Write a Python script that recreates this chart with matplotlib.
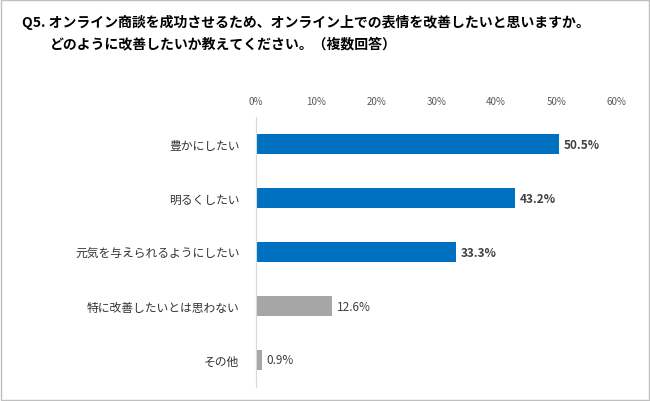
import matplotlib
matplotlib.use("Agg")
import matplotlib.pyplot as plt
from matplotlib.patches import Rectangle

plt.rcParams['font.family'] = 'Noto Sans CJK JP'

categories = ["豊かにしたい", "明るくしたい", "元気を与えられるようにしたい", "特に改善したいとは思わない", "その他"]
values = [50.5, 43.2, 33.3, 12.6, 0.9]
colors = ["#0070C0", "#0070C0", "#0070C0", "#A6A6A6", "#A6A6A6"]
bold = [True, True, True, False, False]
ticks = [0, 10, 20, 30, 40, 50, 60]
tick_labels = [f"{t}%" for t in ticks]

fig = plt.figure(figsize=(6.5, 4.02), dpi=100)
fig.patches.append(Rectangle((0.002, 0.002), 0.996, 0.996, transform=fig.transFigure,
                             fill=False, edgecolor="#BFBFBF", linewidth=1))
fig.text(0.034, 0.945, "Q5. オンライン商談を成功させるため、オンライン上での表情を改善したいと思いますか。",
         fontsize=10, fontweight='bold', va='center')
fig.text(0.077, 0.89, "どのように改善したいか教えてください。（複数回答）",
         fontsize=10, fontweight='bold', va='center')

ax = fig.add_axes([0.394, 0.035, 0.554, 0.671])
y = list(range(len(categories)))
ax.barh(y, values, color=colors, height=0.38)
ax.set_ylim(len(categories) - 0.5, -0.5)
ax.set_xlim(0, 60)
ax.set_yticks(y)
ax.set_yticklabels(categories, fontsize=8.5, color="#333333")
ax.set_xticks(ticks)
ax.set_xticklabels(tick_labels, fontsize=7, color="#595959")
ax.xaxis.tick_top()
ax.tick_params(length=0, pad=8)
ax.tick_params(axis='y', pad=12)
for s in ['top', 'right', 'bottom']:
    ax.spines[s].set_visible(False)
ax.spines['left'].set_color("#D9D9D9")
for i, (v, b) in enumerate(zip(values, bold)):
    ax.text(v + 0.8, i, f"{v}%", va='center', fontsize=8.5,
            fontweight='bold' if b else 'normal', color="#404040")

fig.savefig("out.png", dpi=100)
